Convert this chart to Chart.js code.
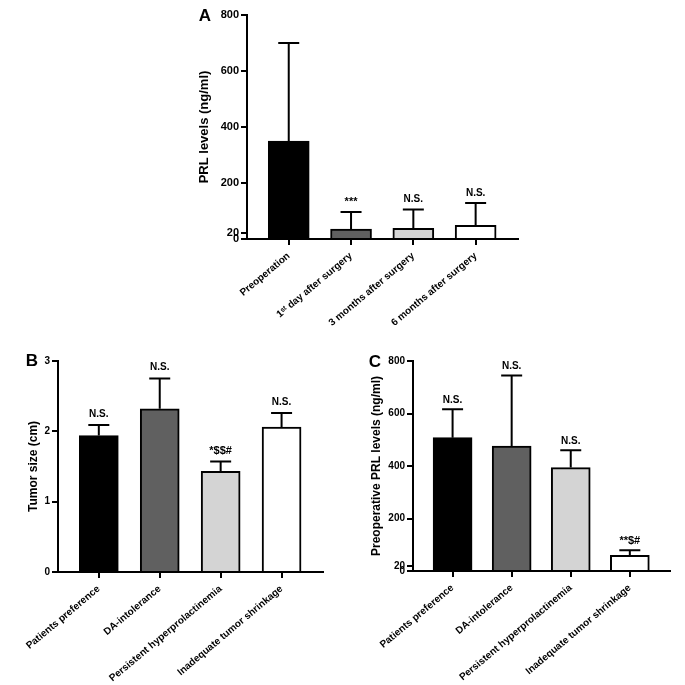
<!DOCTYPE html>
<html><head><meta charset="utf-8">
<script src="https://cdn.jsdelivr.net/npm/chart.js@4/dist/chart.umd.min.js"></script>
<style>
html,body{margin:0;padding:0;background:#fff;width:685px;height:685px;overflow:hidden}
.p{position:absolute}
</style></head><body>
<div class="p" style="left:170px;top:0;width:360px;height:340px"><canvas id="ca"></canvas></div>
<div class="p" style="left:0;top:340px;width:340px;height:345px"><canvas id="cb"></canvas></div>
<div class="p" style="left:340px;top:340px;width:345px;height:345px"><canvas id="cc"></canvas></div>
<script>
// ---- Panel A ----
const catsA = ['Preoperation', '1ˢᵗ day after surgery', '3 months after surgery', '6 months after surgery'];
const meanA = [350, 35, 38, 49];
const errTopA = [700, 96, 105, 129];
const marksA = ['', '***', 'N.S.', 'N.S.'];
const yTicksA = [0, 20, 200, 400, 600, 800];

// ---- Panel B ----
const catsB = ['Patients preference', 'DA-intolerance', 'Persistent hyperprolactinemia', 'Inadequate tumor shrinkage'];
const meanB = [1.94, 2.32, 1.43, 2.06];
const errTopB = [2.09, 2.75, 1.57, 2.26];
const marksB = ['N.S.', 'N.S.', '*$$#', 'N.S.'];
const yTicksB = [0, 1, 2, 3];

// ---- Panel C ----
const catsC = ['Patients preference', 'DA-intolerance', 'Persistent hyperprolactinemia', 'Inadequate tumor shrinkage'];
const meanC = [508, 476, 394, 60];
const errTopC = [616, 745, 460, 79];
const marksC = ['N.S.', 'N.S.', 'N.S.', '**$#'];
const yTicksC = [0, 20, 200, 400, 600, 800];

const FONT = '"Liberation Sans", Arial, Helvetica, sans-serif';
const fills = ['#000000', '#606060', '#d4d4d4', '#ffffff'];

function makePlugin(means, tops, marks, letter, cfg) {
  return {
    id: 'errAnno',
    afterDatasetsDraw(chart) {
      const ctx = chart.ctx, xs = chart.scales.x, ys = chart.scales.y;
      ctx.save();
      ctx.strokeStyle = '#000';
      ctx.lineWidth = 2;
      ctx.fillStyle = '#000';
      ctx.textAlign = 'center';
      ctx.textBaseline = 'middle';
      tops.forEach((t, i) => {
        const x = xs.getPixelForValue(i);
        const y0 = ys.getPixelForValue(means[i]);
        const y1 = ys.getPixelForValue(t);
        ctx.beginPath();
        ctx.moveTo(x, y0); ctx.lineTo(x, y1);
        ctx.moveTo(x - cfg.cap / 2, y1); ctx.lineTo(x + cfg.cap / 2, y1);
        ctx.stroke();
        if (marks[i]) {
          ctx.font = (marks[i].includes('*') ? 'bold 11px ' : 'bold 10px ') + FONT;
          ctx.fillText(marks[i], x, y1 - cfg.markOff);
        }
      });
      ctx.font = 'bold 17px ' + FONT;
      ctx.fillText(letter, cfg.lx, cfg.ly);
      ctx.restore();
    }
  };
}

function makeChart(id, cats, means, tops, marks, yTicks, yMax, yTitle, letter, cfg) {
  return new Chart(document.getElementById(id), {
    type: 'bar',
    data: {
      datasets: [{
        data: means.map((v, i) => ({ x: i, y: v })),
        backgroundColor: fills,
        borderColor: '#000',
        borderWidth: 2,
        barThickness: cfg.barW
      }]
    },
    options: {
      responsive: true,
      maintainAspectRatio: false,
      animation: false,
      layout: { padding: { left: 0, right: cfg.pr, top: cfg.pt, bottom: 0 } },
      plugins: { legend: { display: false }, tooltip: { enabled: false } },
      scales: {
        x: {
          type: 'linear', min: -0.67, max: 3.68, offset: false,
          afterBuildTicks(s) { s.ticks = cats.map((c, i) => ({ value: i })); },
          afterFit(s) { s.height = cfg.xh; },
          ticks: {
            autoSkip: false, maxRotation: 40, minRotation: 40, padding: 5, color: '#000',
            font: { family: FONT, size: 10, weight: 'bold' },
            callback: (v) => cats[v]
          },
          grid: { display: true, offset: false, drawOnChartArea: false, drawTicks: true, tickLength: 6, color: '#000', lineWidth: 2 },
          border: { display: true, color: '#000', width: 2 }
        },
        y: {
          type: 'linear', min: 0, max: yMax,
          afterBuildTicks(s) { s.ticks = yTicks.map(v => ({ value: v })); },
          afterFit(s) { s.width = cfg.yw; },
          ticks: { autoSkip: false, padding: 2, color: '#000', font: { family: FONT, size: cfg.tickSize, weight: 'bold' } },
          grid: { display: true, drawOnChartArea: false, drawTicks: true, tickLength: 6, color: '#000', lineWidth: 2 },
          border: { display: true, color: '#000', width: 2 },
          title: { display: true, text: yTitle, color: '#000', font: { family: FONT, size: cfg.titleSize, weight: 'bold' }, padding: { top: cfg.tp, bottom: 0 } }
        }
      }
    },
    plugins: [makePlugin(means, tops, marks, letter, cfg)]
  });
}

makeChart('ca', catsA, meanA, errTopA, marksA, yTicksA, 800, 'PRL levels (ng/ml)', 'A',
  { barW: 41, pr: 12, pt: 15, xh: 101, yw: 77, tp: 27, titleSize: 13, tickSize: 11, cap: 21, markOff: 10, lx: 35, ly: 16 });
makeChart('cb', catsB, meanB, errTopB, marksB, yTicksB, 3, 'Tumor size (cm)', 'B',
  { barW: 39, pr: 17, pt: 21, xh: 113, yw: 58, tp: 26, titleSize: 12, tickSize: 10, cap: 21, markOff: 11, lx: 32, ly: 21 });
makeChart('cc', catsC, meanC, errTopC, marksC, yTicksC, 800, 'Preoperative PRL levels (ng/ml)', 'C',
  { barW: 39, pr: 15, pt: 21, xh: 114, yw: 73, tp: 29, titleSize: 12, tickSize: 10, cap: 21, markOff: 9, lx: 35, ly: 22 });
</script>
</body></html>
